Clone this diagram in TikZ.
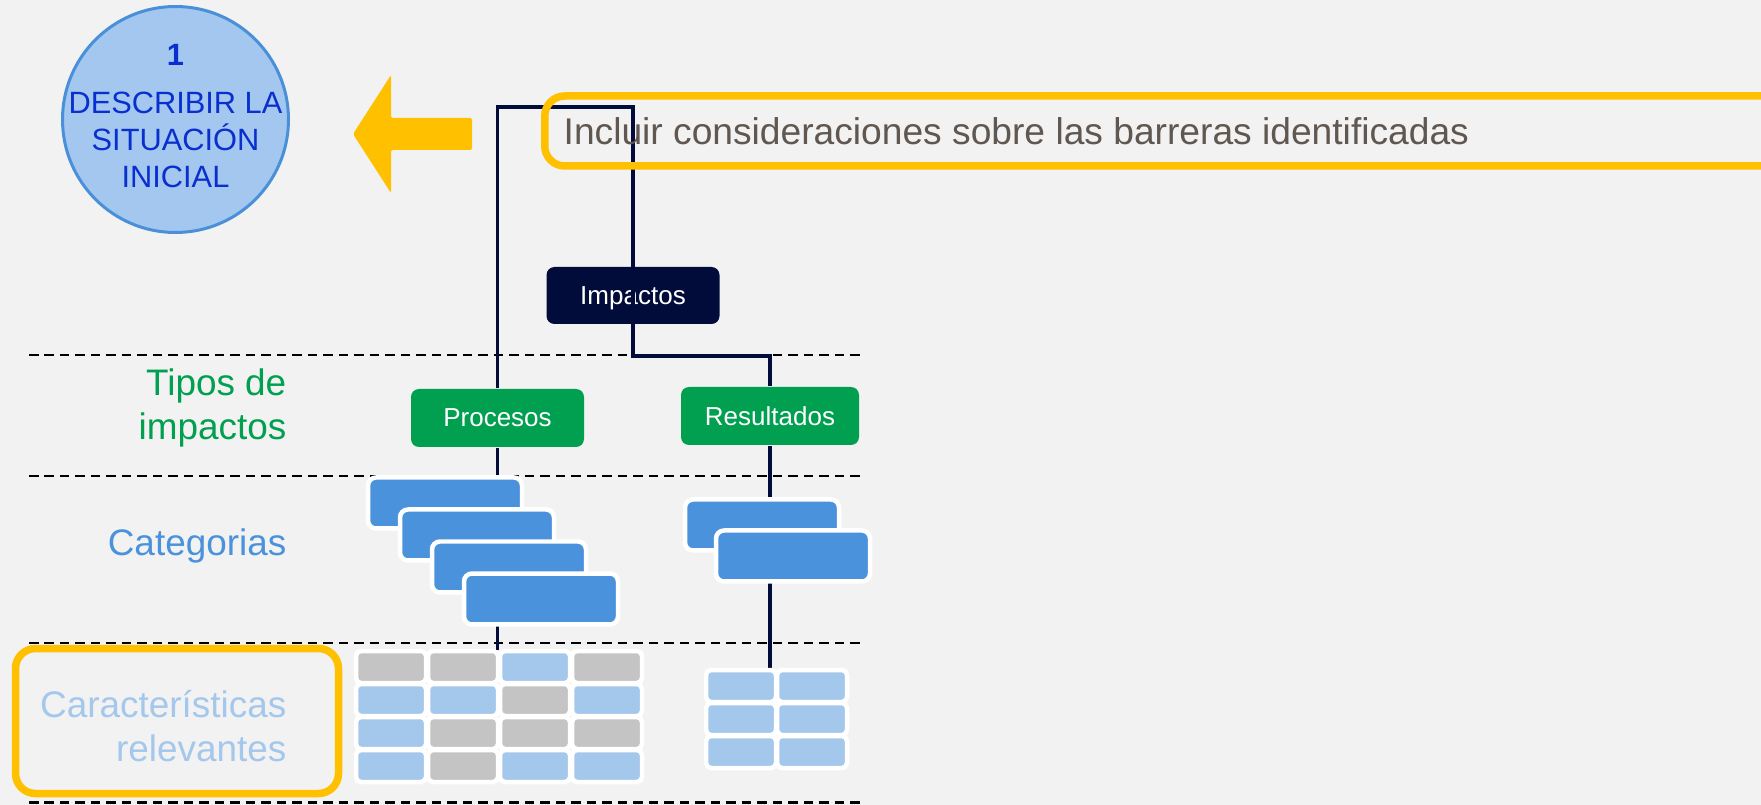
\documentclass[tikz,border=0pt]{standalone}
\usepackage{fontspec}
\setmainfont{Liberation Sans}
\usepackage{xcolor}
\usepackage{tikz}

\definecolor{bgc}{HTML}{F2F2F2}
\definecolor{navyc}{HTML}{020C3A}
\definecolor{greenc}{HTML}{00A050}
\definecolor{catblue}{HTML}{4A92DC}
\definecolor{lightblue}{HTML}{A4C7EC}
\definecolor{cellgray}{HTML}{C4C4C4}
\definecolor{yel}{HTML}{FFC000}
\definecolor{circfill}{HTML}{A3C7EE}
\definecolor{circedge}{HTML}{4A90D9}
\definecolor{circtext}{HTML}{0A2FCF}
\definecolor{inctext}{HTML}{5F5750}

\begin{document}
\begin{tikzpicture}[x=0.1mm,y=-0.1mm,every node/.style={inner sep=0pt},
  stage/.style={rounded corners=0.8mm,minimum height=5.8mm,text=white,text depth=0pt,font=\fontsize{7.4}{9}\selectfont},
  catbox/.style={fill=catblue,draw=white,line width=0.45mm,rounded corners=0.8mm,minimum width=15.4mm,minimum height=5.1mm},
  cell/.style={draw=white,line width=0.45mm,rounded corners=0.5mm,minimum width=7mm,minimum height=3.2mm},
  hlbox/.style={draw=yel,line width=0.75mm,rounded corners=2mm},
  rowlabel/.style={anchor=east,align=right,font=\fontsize{10.5}{12.7}\selectfont},
  link/.style={draw=navyc,line width=0.35mm},
  sepline/.style={draw=black,line width=0.22mm,dash pattern=on 0.95mm off 0.6mm}]
            \useasboundingbox (0,0) rectangle (1761,805);
            \clip (0,0) rectangle (1761,805);
            \fill[bgc] (0,0) rectangle (1761,805);
              \draw[sepline] (29,355) -- (860,355);
              \draw[sepline] (29,476) -- (860,476);
              \draw[sepline] (29,643) -- (860,643);
              \draw[sepline] (29,802.5) -- (860,802.5);
            \node[circle,draw=circedge,line width=0.3mm,fill=circfill,minimum size=22.6mm] (sitcircle) at (175.5,119.5) {};
            \node[align=center,text=circtext,font=\fontsize{8.76}{10.6}\selectfont] (sitlabel) at (175.5,116) {\textbf{1}\\[1.1mm]DESCRIBIR LA\\SITUACIÓN\\INICIAL};
            \fill[yel,rounded corners=0.2mm] (353,134) -- (391,75) -- (391,118) -- (472,118) -- (472,150) -- (391,150) -- (391,193) -- cycle;
            \node[rowlabel,text=greenc] (tiposlabel) at (287,408) {Tipos de\\impactos};
            \node[rowlabel,anchor=base east,text=catblue] (catlabel) at (287,555) {Categorias};
            \node[hlbox,minimum width=32.3mm,minimum height=14.5mm] (relbox) at (177,721) {};
            \node[rowlabel,text=lightblue] (rellabel) at (287,726) {Características\\relevantes};
            \node[stage,fill=navyc,minimum width=17.3mm,minimum height=5.7mm] (impactos) at (633,295.5) {Impactos};
            \node[stage,fill=greenc,minimum width=17.3mm] (procesos) at (497.5,418) {Procesos};
            \node[stage,fill=greenc,minimum width=17.8mm] (resultados) at (770,416) {Resultados};
            \coordinate (topbend) at (633,107);
            \coordinate (midbend) at (770,356);
            \coordinate (pgridtop) at (497.5,650);
            \coordinate (rgridtop) at (770,668);
              \draw[link] (procesos.north) |- (topbend) -- (impactos.south);
              \draw[link] (impactos.south) |- (midbend) -- (resultados.north);
              \draw[link] (procesos.south) -- (pgridtop);
              \draw[link] (resultados.south) -- (rgridtop);
            \node[hlbox,minimum width=130mm,minimum height=7mm,anchor=west] (barbox) at (541,131) {};
            \node[anchor=west,text=inctext,font=\fontsize{10.58}{12}\selectfont] (barlabel) at (563,131) {Incluir consideraciones sobre las barreras identificadas};
            \node[catbox] (catp1) at (445,503) {};
            \node[catbox] (catp2) at (477,535) {};
            \node[catbox] (catp3) at (509,567) {};
            \node[catbox] (catp4) at (541,599) {};
            \node[catbox] (catr1) at (762,525) {};
            \node[catbox] (catr2) at (793,556) {};
            \node[cell,fill=cellgray] (pc11) at (391,667) {};
            \node[cell,fill=cellgray] (pc12) at (463,667) {};
            \node[cell,fill=lightblue] (pc13) at (535,667) {};
            \node[cell,fill=cellgray] (pc14) at (607,667) {};
            \node[cell,fill=lightblue] (pc21) at (391,700) {};
            \node[cell,fill=lightblue] (pc22) at (463,700) {};
            \node[cell,fill=cellgray] (pc23) at (535,700) {};
            \node[cell,fill=lightblue] (pc24) at (607,700) {};
            \node[cell,fill=lightblue] (pc31) at (391,733) {};
            \node[cell,fill=cellgray] (pc32) at (463,733) {};
            \node[cell,fill=cellgray] (pc33) at (535,733) {};
            \node[cell,fill=cellgray] (pc34) at (607,733) {};
            \node[cell,fill=lightblue] (pc41) at (391,766) {};
            \node[cell,fill=cellgray] (pc42) at (463,766) {};
            \node[cell,fill=lightblue] (pc43) at (535,766) {};
            \node[cell,fill=lightblue] (pc44) at (607,766) {};
            \node[cell,fill=lightblue] (rc11) at (741,686) {};
            \node[cell,fill=lightblue] (rc12) at (812,686) {};
            \node[cell,fill=lightblue] (rc21) at (741,719) {};
            \node[cell,fill=lightblue] (rc22) at (812,719) {};
            \node[cell,fill=lightblue] (rc31) at (741,752) {};
            \node[cell,fill=lightblue] (rc32) at (812,752) {};
            \end{tikzpicture}
\end{document}
